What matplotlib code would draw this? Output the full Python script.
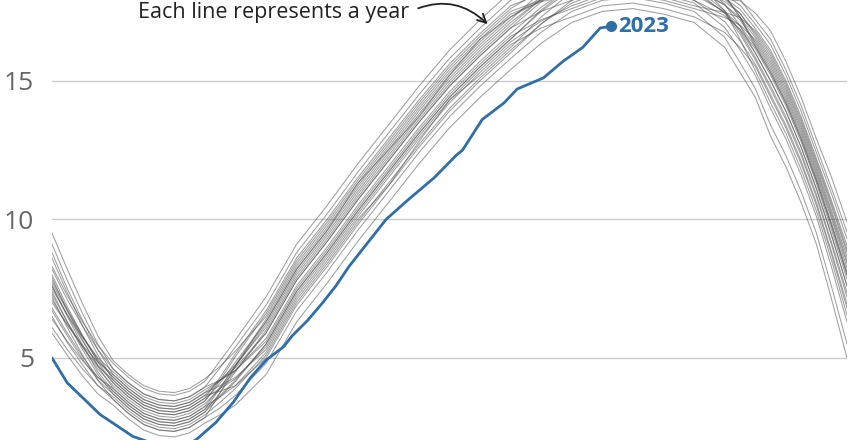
import matplotlib
matplotlib.use("Agg")
import matplotlib.pyplot as plt

plt.rcParams['font.family'] = ['Open Sans', 'DejaVu Sans']

# day of year at which each past-year line is sampled
days = [1, 8, 15, 22, 29, 36, 43, 50, 57, 64, 71, 78, 85, 99, 113, 127, 141, 155, 169,
        183, 197, 211, 225, 239, 253, 267, 281, 295, 309, 316, 323, 330, 337, 344, 351, 358, 365]

# sea ice extent (million sq km), one row per earlier year
past_years = [
    [9.1, 7.8, 6.6, 5.5, 4.6, 4.1, 3.7, 3.5, 3.45, 3.6, 3.95, 4.65, 5.4, 6.9, 8.8, 10.2, 11.7, 13.1, 14.5,
     15.8, 16.9, 17.9, 18.5, 18.9, 19.3, 19.4, 19.2, 18.9, 18.33, 17.94, 17.2, 16.5, 15.4, 14.1, 12.6, 11.1, 9.55],
    [6.1, 5.3, 4.6, 4.0, 3.6, 3.1, 2.7, 2.5, 2.45, 2.6, 2.95, 3.4, 3.9, 5.1, 7.0, 8.4, 9.9, 11.3, 12.7,
     14.0, 15.1, 16.1, 17.05, 17.8, 18.2, 18.3, 18.1, 17.8, 16.92, 16.11, 15.2, 14.0, 12.9, 11.6, 10.1, 8.25, 6.3],
    [7.8, 6.75, 5.8, 4.95, 4.3, 3.8, 3.4, 3.2, 3.15, 3.3, 3.65, 4.2, 4.75, 6.1, 8.0, 9.4, 10.9, 12.3, 13.7,
     15.0, 16.1, 17.1, 17.95, 18.6, 19.0, 19.1, 18.9, 18.6, 17.94, 17.43, 16.64, 15.8, 14.7, 13.4, 11.9, 10.3, 8.65],
    [6.8, 5.9, 5.05, 4.3, 3.8, 3.3, 2.9, 2.7, 2.65, 2.8, 3.15, 3.65, 4.2, 5.5, 7.4, 8.8, 10.3, 11.7, 13.1,
     14.4, 15.5, 16.5, 17.5, 18.3, 18.7, 18.8, 18.6, 18.3, 17.43, 16.68, 15.76, 14.7, 13.6, 12.3, 10.8, 9.05, 7.2],
    [8.3, 7.25, 6.3, 5.45, 4.8, 4.3, 3.9, 3.7, 3.65, 3.8, 4.15, 4.9, 5.65, 7.2, 9.1, 10.5, 12.0, 13.4, 14.8,
     16.1, 17.2, 18.2, 18.75, 19.1, 19.5, 19.6, 19.4, 19.1, 18.09, 17.28, 16.24, 15.3, 14.2, 12.9, 11.4, 9.75, 8.0],
    [7.3, 6.3, 5.4, 4.6, 4.0, 3.5, 3.1, 2.9, 2.85, 3.0, 3.35, 3.9, 4.55, 5.9, 7.8, 9.2, 10.7, 12.1, 13.5,
     14.8, 15.9, 16.9, 17.5, 17.9, 18.3, 18.4, 18.2, 17.9, 17.34, 16.86, 16.16, 15.2, 14.1, 12.8, 11.3, 9.6, 7.85],
    [6.5, 5.55, 4.75, 4.0, 3.5, 3.0, 2.6, 2.4, 2.35, 2.5, 2.85, 3.2, 3.65, 4.8, 6.7, 8.1, 9.6, 11.0, 12.4,
     13.7, 14.8, 15.8, 16.75, 17.5, 17.9, 18.0, 17.8, 17.5, 16.56, 15.66, 14.72, 13.4, 12.3, 11.0, 9.5, 7.55, 5.5],
    [7.6, 6.5, 5.45, 4.5, 3.8, 3.3, 2.9, 2.7, 2.65, 2.8, 3.15, 3.9, 4.75, 6.3, 8.2, 9.6, 11.1, 12.5, 13.9,
     15.2, 16.3, 17.3, 18.0, 18.5, 18.9, 19.0, 18.8, 18.5, 17.97, 17.58, 16.88, 16.1, 15.0, 13.7, 12.2, 10.65, 9.05],
    [9.5, 8.2, 6.95, 5.8, 4.9, 4.4, 4.0, 3.8, 3.75, 3.9, 4.25, 4.7, 5.25, 6.5, 8.4, 9.8, 11.3, 12.7, 14.1,
     15.4, 16.5, 17.5, 17.9, 18.1, 18.5, 18.6, 18.4, 18.1, 17.94, 17.88, 17.44, 16.8, 15.7, 14.4, 12.9, 11.5, 9.9],
    [7.0, 6.2, 5.45, 4.85, 4.4, 3.9, 3.5, 3.3, 3.25, 3.4, 3.75, 4.0, 4.3, 5.3, 7.2, 8.6, 10.1, 11.5, 12.9,
     14.2, 15.3, 16.3, 16.9, 17.3, 17.7, 17.8, 17.6, 17.3, 16.74, 16.2, 15.52, 14.4, 13.3, 12.0, 10.5, 8.7, 6.8],
    [8.0, 6.85, 5.8, 4.85, 4.1, 3.6, 3.2, 3.0, 2.95, 3.1, 3.45, 4.2, 5.05, 6.6, 8.5, 9.9, 11.4, 12.8, 14.2,
     15.5, 16.6, 17.6, 18.25, 18.7, 19.1, 19.2, 19.0, 18.7, 17.76, 16.98, 16.0, 15.0, 13.9, 12.6, 11.1, 9.4, 7.6],
    [5.9, 5.1, 4.35, 3.7, 3.3, 2.8, 2.4, 2.2, 2.15, 2.3, 2.65, 2.95, 3.3, 4.4, 6.3, 7.7, 9.2, 10.6, 12.0,
     13.3, 14.4, 15.4, 16.35, 17.1, 17.5, 17.6, 17.4, 17.1, 16.2, 15.3, 14.4, 13.0, 11.9, 10.6, 9.1, 7.1, 5.0],
    [7.5, 6.55, 5.75, 5.0, 4.5, 4.0, 3.6, 3.4, 3.35, 3.5, 3.85, 4.2, 4.55, 5.7, 7.6, 9.0, 10.5, 11.9, 13.3,
     14.6, 15.7, 16.7, 17.65, 18.4, 18.8, 18.9, 18.7, 18.4, 17.73, 17.19, 16.4, 15.5, 14.4, 13.1, 11.6, 10.0, 8.25],
    [6.7, 5.8, 4.95, 4.2, 3.7, 3.2, 2.8, 2.6, 2.55, 2.7, 3.05, 3.75, 4.5, 6.0, 7.9, 9.3, 10.8, 12.2, 13.6,
     14.9, 16.0, 17.0, 17.95, 18.7, 19.1, 19.2, 19.0, 18.7, 17.52, 16.5, 15.36, 14.2, 13.1, 11.8, 10.3, 8.5, 6.55],
    [8.6, 7.35, 6.15, 5.1, 4.2, 3.7, 3.3, 3.1, 3.05, 3.2, 3.55, 3.9, 4.25, 5.4, 7.3, 8.7, 10.2, 11.6, 13.0,
     14.3, 15.4, 16.4, 17.15, 17.7, 18.1, 18.2, 18.0, 17.7, 17.46, 17.28, 16.8, 16.0, 14.9, 13.6, 12.1, 10.55, 8.9],
    [7.9, 6.7, 5.65, 4.7, 3.9, 3.4, 3.0, 2.8, 2.75, 2.9, 3.25, 3.95, 4.7, 6.2, 8.1, 9.5, 11.0, 12.4, 13.8,
     15.1, 16.2, 17.2, 18.2, 19.0, 19.4, 19.5, 19.3, 19.0, 18.06, 17.31, 16.32, 15.4, 14.3, 13.0, 11.5, 9.85, 8.1],
    [7.1, 6.2, 5.4, 4.7, 4.2, 3.7, 3.3, 3.1, 3.05, 3.2, 3.55, 4.3, 5.15, 6.7, 8.6, 10.0, 11.5, 12.9, 14.3,
     15.6, 16.7, 17.7, 18.15, 18.4, 18.8, 18.9, 18.7, 18.4, 17.52, 16.77, 15.84, 14.8, 13.7, 12.4, 10.9, 9.15, 7.35],
    [8.2, 7.1, 6.15, 5.3, 4.6, 4.1, 3.7, 3.5, 3.45, 3.6, 3.95, 4.2, 4.55, 5.6, 7.5, 8.9, 10.4, 11.8, 13.2,
     14.5, 15.6, 16.6, 17.2, 17.6, 18.0, 18.1, 17.9, 17.6, 17.28, 17.01, 16.48, 15.6, 14.5, 13.2, 11.7, 10.1, 8.4],
    [7.6, 6.55, 5.6, 4.75, 4.1, 3.6, 3.2, 3.0, 2.95, 3.1, 3.45, 4.1, 4.85, 6.3, 8.2, 9.6, 11.3, 12.5, 13.7,
     15.2, 16.5, 17.3, 17.9, 18.3, 18.7, 18.8, 18.6, 18.3, 17.73, 17.28, 16.56, 15.7, 14.6, 13.3, 11.8, 10.2, 8.5],
    [6.4, 5.6, 4.9, 4.3, 3.9, 3.4, 3.0, 2.8, 2.75, 2.9, 3.25, 3.6, 4.0, 5.2, 7.1, 8.5, 10.0, 11.2, 12.8,
     14.3, 15.2, 16.2, 17.3, 18.2, 18.6, 18.7, 18.5, 18.2, 17.46, 16.83, 16.0, 15.0, 13.9, 12.6, 11.1, 9.4, 7.6],
    [7.7, 6.7, 5.75, 4.9, 4.3, 3.8, 3.4, 3.2, 3.15, 3.3, 3.65, 3.8, 4.0, 5.0, 6.9, 8.3, 9.8, 11.2, 12.6,
     13.9, 15.0, 16.0, 17.05, 17.9, 18.3, 18.4, 18.2, 17.9, 17.13, 16.44, 15.6, 14.5, 13.4, 12.1, 10.6, 8.8, 6.95],
    [8.8, 7.5, 6.35, 5.3, 4.4, 3.9, 3.5, 3.3, 3.25, 3.4, 3.75, 4.2, 4.65, 5.9, 7.8, 9.2, 10.7, 12.1, 13.5,
     14.8, 15.9, 16.9, 17.85, 18.6, 19.0, 19.1, 18.9, 18.6, 18.09, 17.73, 17.04, 16.3, 15.2, 13.9, 12.4, 10.9, 9.3],
    [7.2, 6.1, 5.1, 4.2, 3.5, 3.0, 2.6, 2.4, 2.35, 2.5, 2.85, 3.75, 4.7, 6.4, 8.3, 9.7, 11.2, 12.6, 14.0,
     15.3, 16.4, 17.4, 17.85, 18.1, 18.5, 18.6, 18.4, 18.1, 17.49, 16.98, 16.24, 15.3, 14.2, 12.9, 11.4, 9.75, 8.0],
    [7.4, 6.3, 5.3, 4.4, 3.7, 3.2, 2.8, 2.6, 2.55, 2.7, 3.05, 3.6, 4.15, 5.5, 7.4, 8.8, 10.3, 11.7, 13.1,
     14.4, 15.5, 16.5, 17.55, 18.4, 18.8, 18.9, 18.7, 18.4, 17.85, 17.43, 16.72, 15.9, 14.8, 13.5, 12.0, 10.45, 8.8],
]

# 2023 so far
days_2023 = [1, 8, 23, 38, 46, 55, 64, 67, 76, 84, 92, 99, 107, 111, 118, 125, 131, 137, 143,
             154, 164, 176, 186, 189, 198, 208, 214, 226, 235, 244, 252, 257]
extent_2023 = [5.0, 4.1, 2.96, 2.17, 1.95, 1.8, 1.92, 2.05, 2.67, 3.4, 4.3, 4.92, 5.4, 5.8, 6.35, 7.0, 7.6, 8.3, 8.9,
               10.0, 10.7, 11.5, 12.3, 12.5, 13.6, 14.2, 14.7, 15.1, 15.7, 16.2, 16.9, 16.96]

y_ticks = [5, 10, 15]

BLUE = "#2f6ea6"

W, H = 853, 440
fig = plt.figure(figsize=(W / 100, H / 100), dpi=100)
ax = fig.add_axes([52 / W, 0, 795 / W, 1])
ax.set_xlim(1, 365)
ax.set_ylim(2.04, 17.91)

for row in past_years:
    ax.plot(days, row, color="#505050", lw=0.75, alpha=0.55, zorder=2)

ax.plot(days_2023, extent_2023, color=BLUE, lw=2.0, zorder=4, solid_capstyle="round")
ax.plot(days_2023[-1], extent_2023[-1], "o", color=BLUE, ms=7, zorder=5)
ax.annotate("2023", (days_2023[-1], extent_2023[-1]), xytext=(5, 0), textcoords="offset points",
            fontsize=16, fontweight="bold", color=BLUE, va="center", ha="left", zorder=6)

# horizontal grid
for v in y_ticks:
    ax.axhline(v, color="#cccccc", lw=1.0, zorder=1)
ax.set_yticks(y_ticks)
ax.set_yticklabels([str(v) for v in y_ticks])
ax.tick_params(axis="y", length=0, pad=13, labelsize=19, labelcolor="#666666")
ax.set_xticks([])
for s in ax.spines.values():
    s.set_visible(False)

ax.annotate("Each line represents a year", xy=(0.548, 0.945), xycoords="axes fraction",
            xytext=(0.108, 0.972), textcoords="axes fraction",
            fontsize=15.5, color="#222222", va="center", ha="left",
            arrowprops=dict(arrowstyle="->", color="#222222", lw=1.3, relpos=(1, 0.5),
                            connectionstyle="arc3,rad=-0.35", shrinkA=5, shrinkB=0))

fig.savefig("out.png", dpi=100)
